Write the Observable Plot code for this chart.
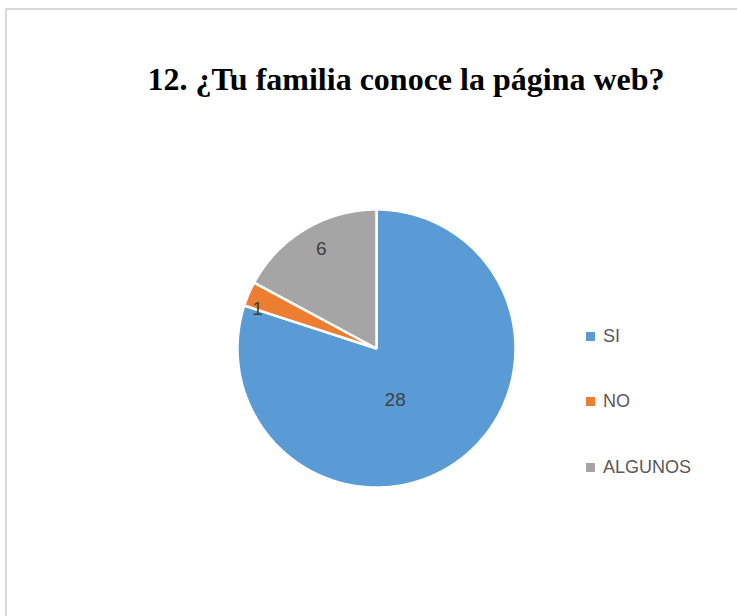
<!DOCTYPE html>
<html>
<head>
<meta charset="utf-8">
<script src="https://cdn.jsdelivr.net/npm/d3@7"></script>
<script src="https://cdn.jsdelivr.net/npm/@observablehq/plot@0.6"></script>
<style>
  html, body { margin: 0; padding: 0; background: #fff; overflow: hidden; }
  #wrap { position: relative; width: 737px; height: 616px; overflow: hidden; background: #fff; }
  #frameL { position: absolute; left: 5px; top: 8px; width: 2px; height: 700px; background: #d9d9d9; }
  #frameT { position: absolute; left: 5px; top: 8px; width: 800px; height: 2px; background: #d9d9d9; }
  #title { position: absolute; left: 0; width: 812px; top: 63px; text-align: center; font-family: "Liberation Serif", "Times New Roman", serif; font-weight: bold; font-size: 32px; line-height: 32px; color: #000; white-space: nowrap; }
  #chart { position: absolute; left: 0; top: 0; width: 737px; height: 616px; }
  #chart svg { display: block; }
  .lg { position: absolute; left: 586px; font-family: "Liberation Sans", Arial, sans-serif; font-size: 18px; color: #595959; line-height: 20px; height: 20px; white-space: nowrap; }
  .lg span.sw { display: inline-block; width: 9px; height: 9px; margin-right: 8px; vertical-align: 1px; }
</style>
</head>
<body>
<div id="wrap">
  <div id="frameL"></div>
  <div id="frameT"></div>
  <div id="chart"></div>
  <div id="title">12. ¿Tu familia conoce la página web?</div>
</div>
<script>
const categories = ["SI", "NO", "ALGUNOS"];
const values = [28, 1, 6];
const colors = ["#5B9BD5", "#ED7D31", "#A5A5A5"];

// layout (label placement as fraction of radius, from slice mid-angle)
const labelRadius = {SI: 0.40, NO: 0.90, ALGUNOS: 0.815};
const labelNudge = {SI: [-14, 6], NO: [-4, 10], ALGUNOS: [3, -2]};
const legendTops = [326, 391, 457];

const rows = categories.map((c, i) => ({cat: c, value: values[i]}));
const arcs = d3.pie().sort(null).value(d => d.value).startAngle(0).endAngle(2 * Math.PI)(rows);

const polys = [];
arcs.forEach(a => {
  polys.push({cat: a.data.cat, x: 0, y: 0});
  const n = Math.max(4, Math.ceil((a.endAngle - a.startAngle) / 0.01));
  for (let k = 0; k <= n; k++) {
    const t = a.startAngle + (a.endAngle - a.startAngle) * k / n;
    polys.push({cat: a.data.cat, x: Math.sin(t), y: Math.cos(t)});
  }
});

const labels = arcs.map(a => {
  const m = (a.startAngle + a.endAngle) / 2;
  const r = labelRadius[a.data.cat];
  return {cat: a.data.cat, value: a.data.value, x: r * Math.sin(m), y: r * Math.cos(m),
          dx: labelNudge[a.data.cat][0], dy: labelNudge[a.data.cat][1]};
});

const chart = Plot.plot({
  width: 737,
  height: 616,
  marginLeft: 237,
  marginRight: 222,
  marginTop: 209,
  marginBottom: 129,
  x: {domain: [-1, 1], axis: null},
  y: {domain: [-1, 1], axis: null},
  color: {domain: categories, range: colors},
  style: {background: "transparent"},
  marks: [
    Plot.line(polys, {x: "x", y: "y", z: "cat", fill: "cat", stroke: "white", strokeWidth: 2.5, curve: "linear-closed", strokeLinejoin: "miter"}),
    ...labels.map(l => Plot.text([l], {x: "x", y: "y", text: d => String(d.value), dx: l.dx, dy: l.dy,
      fill: "#404040", fontSize: 19, fontFamily: "Liberation Sans, Arial, sans-serif"}))
  ]
});
document.getElementById("chart").appendChild(chart);

const wrap = document.getElementById("wrap");
const cs = chart.scale("color");
categories.forEach((c, i) => {
  const d = document.createElement("div");
  d.className = "lg";
  d.style.top = legendTops[i] + "px";
  const sw = document.createElement("span");
  sw.className = "sw";
  sw.style.background = cs.apply(c);
  d.appendChild(sw);
  d.appendChild(document.createTextNode(c));
  wrap.appendChild(d);
});
</script>
</body>
</html>
